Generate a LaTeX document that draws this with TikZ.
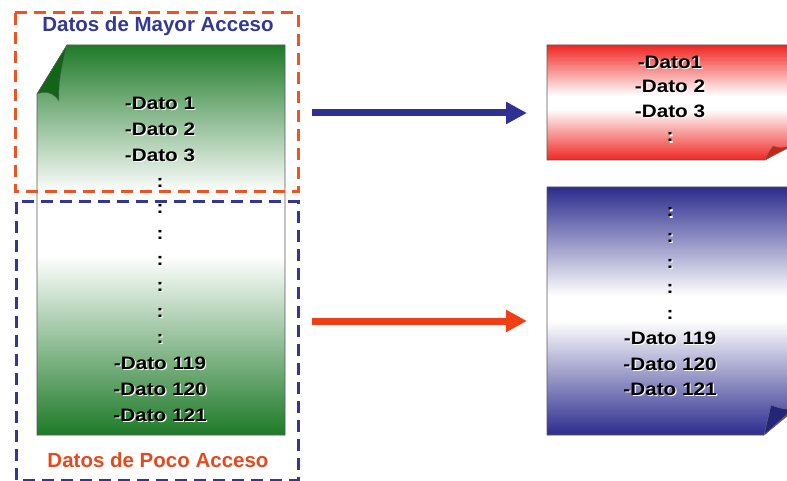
\documentclass[tikz,border=0pt]{standalone}
\usepackage{fontspec}
\setmainfont{Liberation Sans}
\usetikzlibrary{arrows.meta}

\definecolor{dashorange}{RGB}{240,82,34}
\definecolor{dashblue}{RGB}{52,54,150}
\definecolor{titleblue}{RGB}{50,56,150}
\definecolor{titleorange}{RGB}{232,72,30}
\definecolor{docgreen}{RGB}{30,122,40}
\definecolor{curlgreen}{RGB}{18,100,24}
\definecolor{docred}{RGB}{240,38,34}
\definecolor{curlred}{RGB}{190,40,20}
\definecolor{docblue}{RGB}{44,44,142}
\definecolor{curlblue}{RGB}{36,36,120}
\definecolor{arrowblue}{RGB}{46,48,146}
\definecolor{arroworange}{RGB}{240,62,22}

% vertical fades: full colour at top and bottom, a white band in between
% (the path's box spans 25bp..75bp of the shading)
\pgfdeclareverticalshading{greenfade}{100bp}{color(0bp)=(docgreen); color(25bp)=(docgreen);
  color(48bp)=(white); color(56bp)=(white); color(75bp)=(docgreen); color(100bp)=(docgreen)}
\pgfdeclareverticalshading{redfade}{100bp}{color(0bp)=(docred); color(25bp)=(docred);
  color(47bp)=(white); color(53bp)=(white); color(75bp)=(docred); color(100bp)=(docred)}
\pgfdeclareverticalshading{bluefade}{100bp}{color(0bp)=(docblue); color(25bp)=(docblue);
  color(48bp)=(white); color(53bp)=(white); color(75bp)=(docblue); color(100bp)=(docblue)}

\newcommand{\wide}[1]{\scalebox{1.15}[1]{#1}}

\begin{document}
\begin{tikzpicture}[x=1pt,y=-1pt,
  zonebox/.style={line width=3pt,dash pattern=on 12pt off 7pt},
  title/.style={font=\fontsize{20.5}{24}\selectfont\bfseries,anchor=base},
  listtxt/.style={font=\fontsize{18}{22}\selectfont\bfseries,anchor=base,inner sep=0pt,text=black},
  listshadow/.style={listtxt,text=white},
  docedge/.style={draw=black!65,line width=0.6pt},
  sheet/.style={docedge,shading=#1},
  bigarrow/.style={line width=7pt,-{Triangle[length=21pt,width=21pt]}}]

\useasboundingbox (0,0) rectangle (787,481);

% ---- left page: shaded sheet with a curled top-left corner
\path[sheet=greenfade]
  (67,45) -- (285,45) -- (285,435) -- (37,435) -- (37,94) -- cycle;
\fill[curlgreen,draw=black!60,line width=0.4pt]
  (37,94) -- (67,45) .. controls (62,66) and (58,82) .. (59,101)
  .. controls (53,92) and (45,91) .. (37,94) -- cycle;

% ---- right pages
\path[sheet=redfade]
  (547,45) -- (792,45) -- (792,144) -- (765,160) -- (547,160) -- cycle;
\fill[curlred,draw=black!55,line width=0.4pt]
  (765,160) .. controls (768,153) .. (773,146) .. controls (780,148) .. (792,146) -- cycle;

\path[sheet=bluefade]
  (547,187) -- (792,187) -- (792,412) -- (764,435) -- (547,435) -- cycle;
\fill[curlblue,draw=black!55,line width=0.4pt]
  (764,435) .. controls (767,420) .. (771,405) .. controls (779,408) .. (792,410) -- cycle;

% ---- dashed zones
\draw[zonebox,dashorange] (15,13) rectangle (298,192);
\draw[zonebox,dashblue] (16,202) rectangle (298,480);

\node[title,text=titleblue]   (tmayor) at (158,32)  {Datos de Mayor Acceso};
\node[title,text=titleorange] (tpoco)  at (158,467) {Datos de Poco Acceso};

% ---- list on the left page
\foreach \t [count=\i] in {-Dato 1,-Dato 2,-Dato 3,:,:,:,:,:,:,:,-Dato 119,-Dato 120,-Dato 121}{
  \pgfmathsetmacro{\yy}{109.5+26*(\i-1)}
  \node[listshadow] (ls\i) at (161.2,\yy+1.2) {\wide{\t}};
  \node[listtxt]    (l\i)  at (160,\yy)       {\wide{\t}};
}

% ---- list on the red page
\foreach \t [count=\i] in {-Dato1,-Dato 2,-Dato 3,:}{
  \pgfmathsetmacro{\yy}{68.5+24.5*(\i-1)}
  \node[listshadow] (rs\i) at (671.2,\yy+1.2) {\wide{\t}};
  \node[listtxt]    (r\i)  at (670,\yy)       {\wide{\t}};
}

% ---- list on the blue page
\foreach \t [count=\i] in {:,:,:,:,:,-Dato 119,-Dato 120,-Dato 121}{
  \pgfmathsetmacro{\yy}{217+25.5*(\i-1)}
  \node[listshadow] (bs\i) at (671.2,\yy+1.2) {\wide{\t}};
  \node[listtxt]    (b\i)  at (670,\yy)       {\wide{\t}};
}

% ---- arrows between the zones and the pages
\coordinate (hiS) at (312,113);
\coordinate (hiE) at (527,113);
\coordinate (loS) at (312,321);
\coordinate (loE) at (527,321);
\draw[bigarrow,arrowblue]   (hiS) -- (hiE);
\draw[bigarrow,arroworange] (loS) -- (loE);

\end{tikzpicture}
\end{document}
